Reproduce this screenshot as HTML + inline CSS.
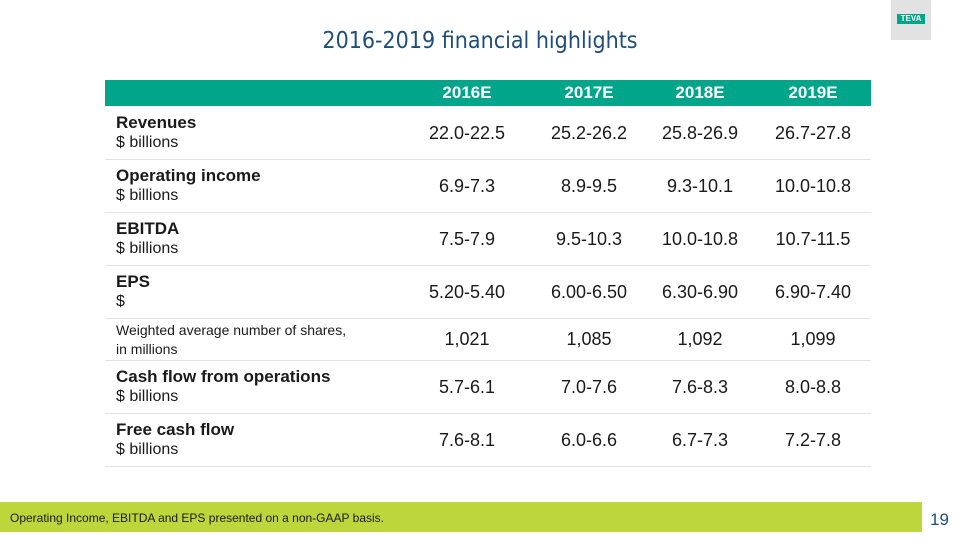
<!DOCTYPE html>
<html><head><meta charset="utf-8"><style>
body{margin:0;width:960px;height:540px;position:relative;background:#fff;font-family:"Liberation Sans","DejaVu Sans",sans-serif;overflow:hidden;color:#1a1a1a}
.abs{position:absolute}
#title{left:0;width:960px;top:28px;text-align:center;font-size:23px;color:#1f4e79;font-family:"DejaVu Sans Condensed","Liberation Sans",sans-serif}
#hdr{left:105px;top:80px;width:766px;height:26px;background:#00a58a}
.hc{top:80px;height:26px;line-height:26px;color:#fff;font-weight:bold;font-size:17px;text-align:center;width:110px}
.lab{left:116px;font-size:16px;line-height:19px}
.lab b{font-size:17px}
.val{font-size:18px;text-align:center;width:110px}
.line{left:105px;width:766px;height:1px;background:#e3e3e3}
#foot{left:0;top:502px;width:922px;height:30px;background:#bcd63b}
</style></head><body>
<div id="title" class="abs">2016-2019 financial highlights</div>
<div class="abs" style="left:891px;top:0;width:40px;height:40px;background:#e2e2e2"><div style="position:absolute;left:6px;top:14px;width:28px;height:10px;background:#00a58a;color:#fff;font-size:8px;font-weight:bold;line-height:10px;text-align:center">TEVA</div></div>
<div id="hdr" class="abs"></div>
<div id="tbl"></div>
<div id="foot" class="abs"><span style="position:absolute;left:10px;top:9px;font-size:12px;color:#1a1a1a">Operating Income, EBITDA and EPS presented on a non-GAAP basis.</span></div>
<div class="abs" style="left:930px;top:510px;font-size:17px;color:#1f4e79">19</div>
<script>
const years=["2016E","2017E","2018E","2019E"];
const labels=["Revenues","Operating income","EBITDA","EPS","Weighted average number of shares,","Cash flow from operations","Free cash flow"];
const sublabels=["$ billions","$ billions","$ billions","$","in millions","$ billions","$ billions"];
const values=[["22.0-22.5","25.2-26.2","25.8-26.9","26.7-27.8"],["6.9-7.3","8.9-9.5","9.3-10.1","10.0-10.8"],["7.5-7.9","9.5-10.3","10.0-10.8","10.7-11.5"],["5.20-5.40","6.00-6.50","6.30-6.90","6.90-7.40"],["1,021","1,085","1,092","1,099"],["5.7-6.1","7.0-7.6","7.6-8.3","8.0-8.8"],["7.6-8.1","6.0-6.6","6.7-7.3","7.2-7.8"]];
const colX=[467,589,700,813];
const rowBounds=[106,159,212,265,318,360,413,466];
const t=document.getElementById('tbl');
years.forEach((y,i)=>{const d=document.createElement('div');d.className='abs hc';d.style.left=(colX[i]-55)+'px';d.textContent=y;


t.appendChild(d);});
labels.forEach((l,r)=>{const top=rowBounds[r],bot=rowBounds[r+1],mid=(top+bot)/2;
const small=r===4;
const lb=document.createElement('div');lb.className='abs lab';lb.style.top=(mid-(small?18:20))+'px';
lb.innerHTML=small?'<span style="font-size:14px">'+l+'</span><br><span style="font-size:14px">'+sublabels[r]+'</span>':'<b>'+l+'</b><br>'+sublabels[r];


t.appendChild(lb);
values[r].forEach((v,c)=>{const d=document.createElement('div');d.className='abs val';d.style.left=(colX[c]-55)+'px';d.style.top=(mid-10)+'px';d.textContent=v;


t.appendChild(d);});
const ln=document.createElement('div');ln.className='abs line';ln.style.top=bot+'px';


t.appendChild(ln);});
</script>
</body></html>
